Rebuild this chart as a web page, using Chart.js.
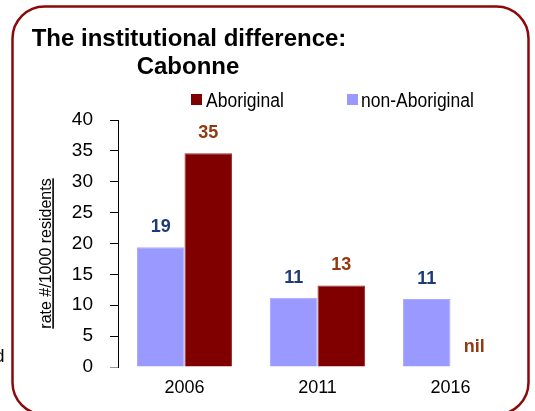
<!DOCTYPE html>
<html><head><meta charset="utf-8">
<script src="https://cdn.jsdelivr.net/npm/chart.js@4.4.0/dist/chart.umd.min.js"></script>
<style>html,body{margin:0;padding:0;background:#fff;overflow:hidden}#wrap{width:535px;height:411px;position:relative}</style>
</head><body><div id="wrap"><canvas id="c" width="535" height="411"></canvas></div>
<script>
const categories = ['2006', '2011', '2016'];
const nonAboriginal = [19.4, 11.2, 11.0];
const aboriginal = [34.6, 13.2, 0];
const nonAboriginalLabels = ['19', '11', '11'];
const aboriginalLabels = ['35', '13', 'nil'];
const yTicks = [0, 5, 10, 15, 20, 25, 30, 35, 40];
const titleLines = ['The institutional difference:', 'Cabonne'];
const yTitle = 'rate #/1000 residents';
const legendNames = ['Aboriginal', 'non-Aboriginal'];
const strayText = 'd';

const FONT = '"Liberation Sans", Arial, Helvetica, sans-serif';
const COL_NON = '#9999FF';
const COL_AB = '#800000';
const LBL_NON = '#1F3A78';
const LBL_AB = '#943A12';

function roundRect(ctx, x, y, w, h, r) {
  ctx.beginPath();
  ctx.moveTo(x + r, y);
  ctx.lineTo(x + w - r, y);
  ctx.arcTo(x + w, y, x + w, y + r, r);
  ctx.lineTo(x + w, y + h - r);
  ctx.arcTo(x + w, y + h, x + w - r, y + h, r);
  ctx.lineTo(x + r, y + h);
  ctx.arcTo(x, y + h, x, y + h - r, r);
  ctx.lineTo(x, y + r);
  ctx.arcTo(x, y, x + r, y, r);
  ctx.closePath();
}

const decor = {
  id: 'decor',
  afterDatasetsDraw(chart) {
    const ctx = chart.ctx;
    const labelSets = [nonAboriginalLabels, aboriginalLabels];
    const labelCols = [LBL_NON, LBL_AB];
    ctx.save();
    ctx.font = 'bold 18px ' + FONT;
    ctx.textAlign = 'center';
    ctx.textBaseline = 'alphabetic';
    [0, 1].forEach(di => {
      const meta = chart.getDatasetMeta(di);
      meta.data.forEach((bar, i) => {
        ctx.fillStyle = labelCols[di];
        ctx.fillText(labelSets[di][i], bar.x, bar.y - 15);
      });
    });
    ctx.restore();
  },
  afterDraw(chart) {
    const ctx = chart.ctx;
    ctx.save();
    // frame
    ctx.strokeStyle = '#8a0a0a';
    ctx.lineWidth = 2.5;
    roundRect(ctx, 12.5, 6.5, 516, 408, 32);
    ctx.stroke();

    // title
    ctx.fillStyle = '#000';
    ctx.font = 'bold 24px ' + FONT;
    ctx.textAlign = 'center';
    ctx.textBaseline = 'alphabetic';
    ctx.fillText(titleLines[0], 189, 46);
    ctx.fillText(titleLines[1], 188, 74);

    // legend
    const items = [
      {name: legendNames[0], color: COL_AB, bx: 191, tx: 206},
      {name: legendNames[1], color: COL_NON, bx: 347, tx: 361}
    ];
    items.forEach(it => {
      ctx.fillStyle = it.color;
      ctx.fillRect(it.bx, 94, 11, 11);
      ctx.save();
      ctx.translate(it.tx, 107);
      ctx.scale(0.875, 1);
      ctx.fillStyle = '#000';
      ctx.font = '20px ' + FONT;
      ctx.textAlign = 'left';
      ctx.fillText(it.name, 0, 0);
      ctx.restore();
    });

    // y-axis title (underlined)
    ctx.save();
    ctx.translate(50.5, 253.5);
    ctx.rotate(-Math.PI / 2);
    ctx.font = '16px ' + FONT;
    ctx.fillStyle = '#000';
    ctx.textAlign = 'center';
    ctx.fillText(yTitle, 0, 0);
    const w = ctx.measureText(yTitle).width;
    ctx.fillRect(-w / 2, 1.8, w, 1.6);
    ctx.restore();

    // stray clipped fragment on left edge
    ctx.font = '18px ' + FONT;
    ctx.fillStyle = '#000';
    ctx.textAlign = 'right';
    ctx.fillText(strayText, 4.5, 362);
    ctx.restore();
  }
};

new Chart(document.getElementById('c'), {
  type: 'bar',
  data: {
    labels: categories,
    datasets: [
      {label: legendNames[1], data: nonAboriginal, backgroundColor: COL_NON,
       borderColor: '#aaaaff', borderWidth: 1, categoryPercentage: 0.714, barPercentage: 1.0},
      {label: legendNames[0], data: aboriginal, backgroundColor: COL_AB,
       borderColor: '#9a3030', borderWidth: 1, categoryPercentage: 0.714, barPercentage: 1.0}
    ]
  },
  options: {
    responsive: false,
    animation: false,
    devicePixelRatio: 1,
    layout: {padding: {top: 120, right: 18, left: 0, bottom: 0}},
    plugins: {legend: {display: false}, title: {display: false}, tooltip: {enabled: false}},
    scales: {
      x: {
        grid: {display: false, drawTicks: false},
        border: {display: false},
        ticks: {font: {family: FONT, size: 18}, color: '#000', padding: 10},
        afterFit: s => { s.height = 44; }
      },
      y: {
        min: 0, max: 40,
        afterBuildTicks: s => { s.ticks = yTicks.map(v => ({value: v})); },
        grid: {drawOnChartArea: false, tickLength: 8,
               tickColor: c => (c.tick && c.tick.value === 0) ? '#999' : '#000'},
        border: {display: true, color: '#000', width: 1},
        ticks: {font: {family: FONT, size: 19}, color: '#000', padding: 17},
        afterFit: s => { s.width = 118; }
      }
    }
  },
  plugins: [decor]
});
</script>
</body></html>
